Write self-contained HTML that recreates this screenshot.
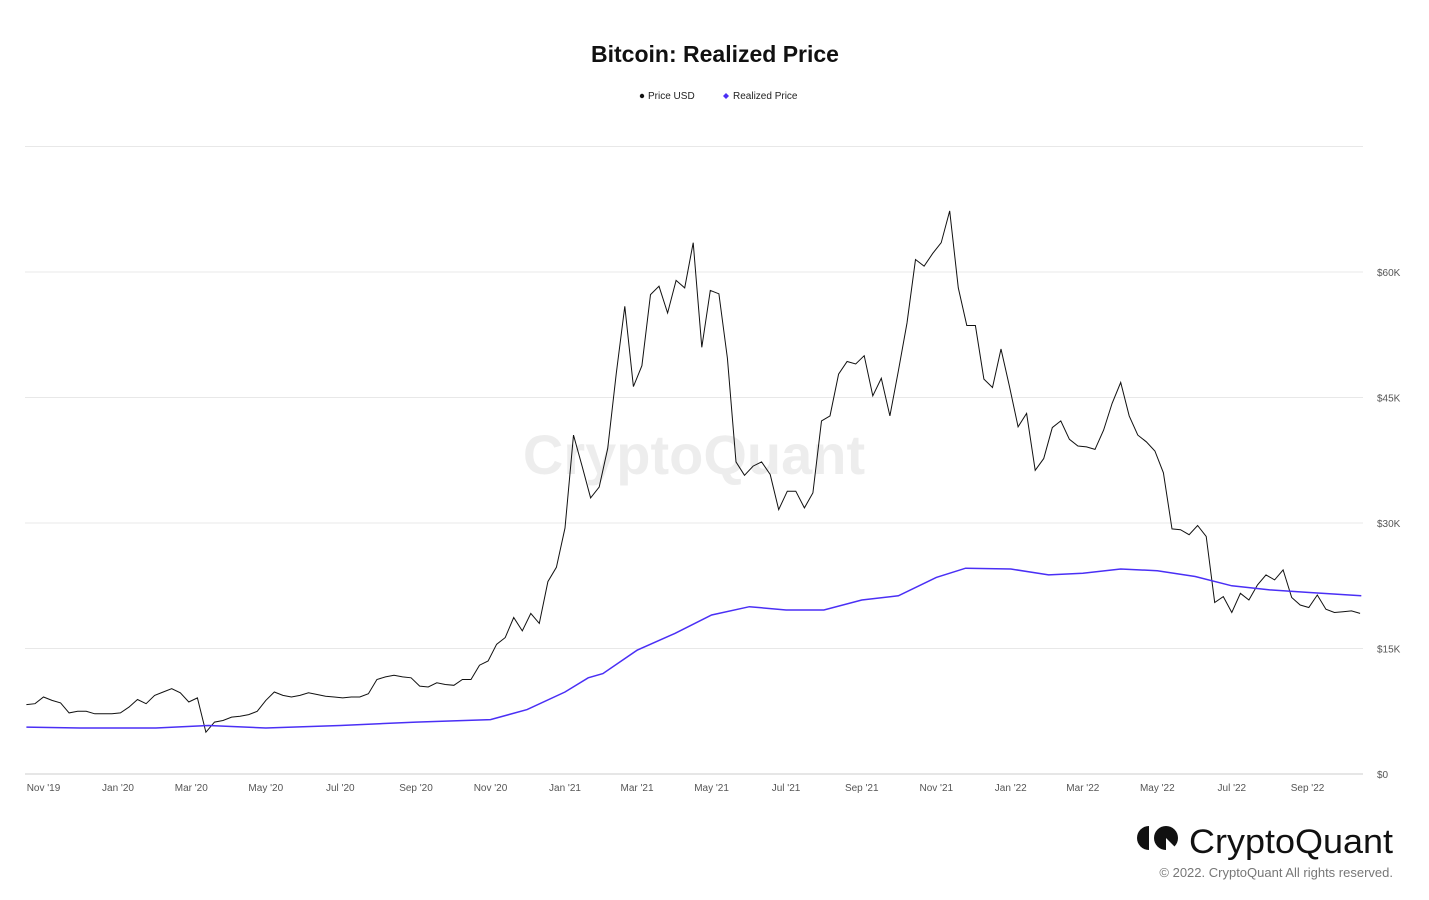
<!DOCTYPE html>
<html><head><meta charset="utf-8"><style>
body{margin:0;background:#fff;font-family:"Liberation Sans",Arial,sans-serif;}
svg{display:block}
</style></head><body>
<svg width="1429" height="900" id="chart">
<text x="715" y="62" text-anchor="middle" font-size="23" font-weight="bold" fill="#111">Bitcoin: Realized Price</text>
<g font-size="10" fill="#222">
<g><circle cx="642" cy="96" r="2.2" fill="#111"/><text x="648" y="99">Price USD</text></g>
<g><path d="M726 93 L729 96 L726 99 L723 96Z" fill="#4a2ff5"/><text x="733" y="99">Realized Price</text></g>
</g>
<text x="694" y="474" text-anchor="middle" font-size="56" fill="#000" fill-opacity="0.07" font-weight="bold">CryptoQuant</text>
<g id="grid"></g><g id="xaxis"></g><g id="series"></g>
<g>
<path d="M1149 826 a12 12 0 0 0 0 24 Z" fill="#111"/>
<circle cx="1166" cy="838" r="12" fill="#111"/><path d="M1166 838 L1178 850 L1166 850Z" fill="#fff"/>
<text x="1189" y="853" font-size="34" fill="#111" textLength="204" lengthAdjust="spacingAndGlyphs">CryptoQuant</text>
<text x="1393" y="877" text-anchor="end" font-size="13" fill="#777">© 2022. CryptoQuant All rights reserved.</text>
</g>
</svg>
<script>
const priceStart = "2019-10-18";
const priceStepDays = 7;
const priceK = [8.3,8.4,9.2,8.8,8.5,7.3,7.5,7.5,7.2,7.2,7.2,
7.3,8.0,8.9,8.4,9.4,9.8,10.2,9.7,8.6,9.1,5.0,6.2,6.4,6.8,6.9,7.1,7.5,8.8,9.8,9.4,9.2,9.4,9.7,9.5,9.3,9.2,9.1,9.2,9.2,9.6,11.3,11.6,11.8,11.6,11.5,10.5,10.4,10.9,10.7,10.6,11.3,11.3,13.0,13.5,15.5,16.3,18.7,17.1,19.2,18.0,23.0,24.7,
29.4,40.5,36.8,33.0,34.3,38.9,47.9,55.9,46.3,48.8,57.3,58.3,55.1,59.0,58.1,63.5,51.0,57.8,57.4,49.7,37.3,35.7,36.8,37.3,35.8,31.6,33.8,33.8,31.8,33.6,42.2,42.8,47.8,49.3,49.0,50.0,45.2,47.3,42.8,48.2,53.9,61.5,60.7,62.2,63.5,67.3,58.1,53.6,53.6,47.2,46.2,50.8,46.3,
41.5,43.1,36.3,37.7,41.4,42.2,40.0,39.2,39.1,38.8,41.1,44.3,46.8,42.8,40.5,39.7,38.6,36.0,29.3,29.2,28.6,29.7,28.4,20.5,21.2,19.3,21.6,20.8,22.6,23.8,23.2,24.4,21.1,20.2,19.9,21.4,19.7,19.3,19.4,19.5,19.2];
const realizedDates = ["2019-10-18","2019-12-01","2020-02-01","2020-03-15","2020-05-01","2020-07-01","2020-09-01","2020-11-01","2020-12-01","2021-01-01","2021-01-20","2021-02-01","2021-03-01","2021-04-01","2021-05-01","2021-06-01","2021-07-01","2021-08-01","2021-09-01","2021-10-01","2021-11-01","2021-11-25","2022-01-01","2022-02-01","2022-03-01","2022-04-01","2022-05-01","2022-06-01","2022-07-01","2022-08-01","2022-09-01","2022-10-15"];
const realizedK = [5.6,5.5,5.5,5.8,5.5,5.8,6.2,6.5,7.7,9.8,11.5,12.0,14.8,16.8,19.0,20.0,19.6,19.6,20.8,21.3,23.5,24.6,24.5,23.8,24.0,24.5,24.3,23.6,22.5,22.0,21.7,21.3];
const yTicks = [0,15,30,45,60,75];
const yTickLabels = ["$0","$15K","$30K","$45K","$60K",""];
const xTickDates = ["2019-11-01","2020-01-01","2020-03-01","2020-05-01","2020-07-01","2020-09-01","2020-11-01","2021-01-01","2021-03-01","2021-05-01","2021-07-01","2021-09-01","2021-11-01","2022-01-01","2022-03-01","2022-05-01","2022-07-01","2022-09-01"];
const xTickLabels = ["Nov '19","Jan '20","Mar '20","May '20","Jul '20","Sep '20","Nov '20","Jan '21","Mar '21","May '21","Jul '21","Sep '21","Nov '21","Jan '22","Mar '22","May '22","Jul '22","Sep '22"];

const NS="http://www.w3.org/2000/svg";
const base=Date.UTC(2020,0,1);
function days(s){const p=s.split("-");return (Date.UTC(+p[0],+p[1]-1,+p[2])-base)/864e5;}
function xd(d){return 118+d*1.2213;}
function y(v){return 774-v/15*125.5;}
function mk(t,a,parent){const e=document.createElementNS(NS,t);for(const k in a)e.setAttribute(k,a[k]);parent.appendChild(e);return e;}
const grid=document.getElementById("grid"),xa=document.getElementById("xaxis"),ser=document.getElementById("series");
yTicks.forEach((v,i)=>{
 const l=mk("line",{x1:25,x2:1363,y1:y(v),y2:y(v),stroke:v===0?"#ccc":"#e8e8e8","stroke-width":1},grid);
 
 
 if(yTickLabels[i]){const t=mk("text",{x:1377,y:y(v)+4,"font-size":10,fill:"#555"},grid);t.textContent=yTickLabels[i];
 
 }
});
xTickDates.forEach((d,i)=>{
 const t=mk("text",{x:xd(days(d)),y:791,"font-size":10,fill:"#555","text-anchor":"middle"},xa);t.textContent=xTickLabels[i];
 
 
});
const d0=days(priceStart);
let pp=priceK.map((v,i)=>xd(d0+i*priceStepDays).toFixed(1)+","+y(v).toFixed(1)).join(" ");
const pl=mk("polyline",{points:pp,fill:"none",stroke:"#111","stroke-width":1},ser);


let rp=realizedK.map((v,i)=>xd(days(realizedDates[i])).toFixed(1)+","+y(v).toFixed(1)).join(" ");
const rl=mk("polyline",{points:rp,fill:"none",stroke:"#4a2ff5","stroke-width":1.5},ser);


</script>
</body></html>
